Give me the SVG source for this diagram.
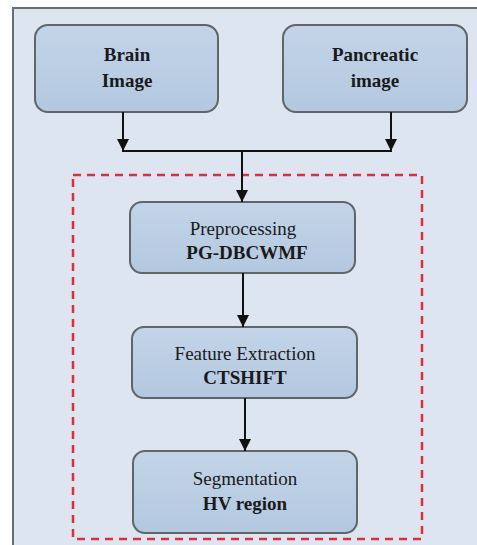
<svg xmlns="http://www.w3.org/2000/svg" width="477" height="545" viewBox="0 0 477 545">
<defs>
<linearGradient id="g" x1="0" y1="0" x2="0" y2="1"><stop offset="0" stop-color="#c3d4e8"/><stop offset="1" stop-color="#b3c8e0"/></linearGradient>
<marker id="ah" markerWidth="12" markerHeight="12" refX="12" refY="6" orient="auto" markerUnits="userSpaceOnUse"><path d="M0,0 L12,6 L0,12 Z" fill="#111"/></marker>
</defs>
<style>
.node rect{fill:url(#g);stroke:#5f6568;stroke-width:2}
.t{font-size:19px;fill:#1a1a1a;text-anchor:middle}
.b{font-weight:bold}
.c{stroke:#111;stroke-width:2;fill:none}
</style>
<rect x="0" y="0" width="477" height="545" fill="#ffffff"/>
<rect x="13" y="8" width="470" height="545" fill="#dde6f0" stroke="#6b6e70" stroke-width="2"/>
<rect id="red-box" x="73" y="175" width="349" height="364" fill="none" stroke="#e8283c" stroke-width="2.5" stroke-dasharray="8,6"/>
<g font-family="Liberation Serif, Times New Roman, DejaVu Serif, serif">
<g id="brain" class="node"><rect x="35" y="25" width="183" height="87" rx="13"/><text class="t b" x="127" y="61">Brain</text><text class="t b" x="127" y="87">Image</text></g>
<g id="pancreatic" class="node"><rect x="283" y="25" width="184" height="87" rx="13"/><text class="t b" x="375" y="61">Pancreatic</text><text class="t b" x="375" y="87">image</text></g>
<g id="preprocessing" class="node"><rect x="130" y="202" width="225" height="71" rx="12"/><text class="t" x="243" y="235">Preprocessing</text><text class="t b" x="247" y="259">PG-DBCWMF</text></g>
<g id="feature" class="node"><rect x="132" y="327" width="225" height="71" rx="12"/><text class="t" x="245" y="360">Feature Extraction</text><text class="t b" x="245" y="384">CTSHIFT</text></g>
<g id="segmentation" class="node"><rect x="133" y="451" width="224" height="82" rx="12"/><text class="t" x="245" y="485">Segmentation</text><text class="t b" x="245" y="510">HV region</text></g>
</g>
<g id="connectors">
<line class="c" x1="123" y1="112" x2="123" y2="151" marker-end="url(#ah)"/>
<line class="c" x1="391" y1="112" x2="391" y2="151" marker-end="url(#ah)"/>
<line class="c" x1="122" y1="151" x2="392" y2="151"/>
<line class="c" x1="242" y1="151" x2="242" y2="202" marker-end="url(#ah)"/>
<line class="c" x1="243" y1="273" x2="243" y2="327" marker-end="url(#ah)"/>
<line class="c" x1="245" y1="398" x2="245" y2="451" marker-end="url(#ah)"/>
</g>
</svg>
